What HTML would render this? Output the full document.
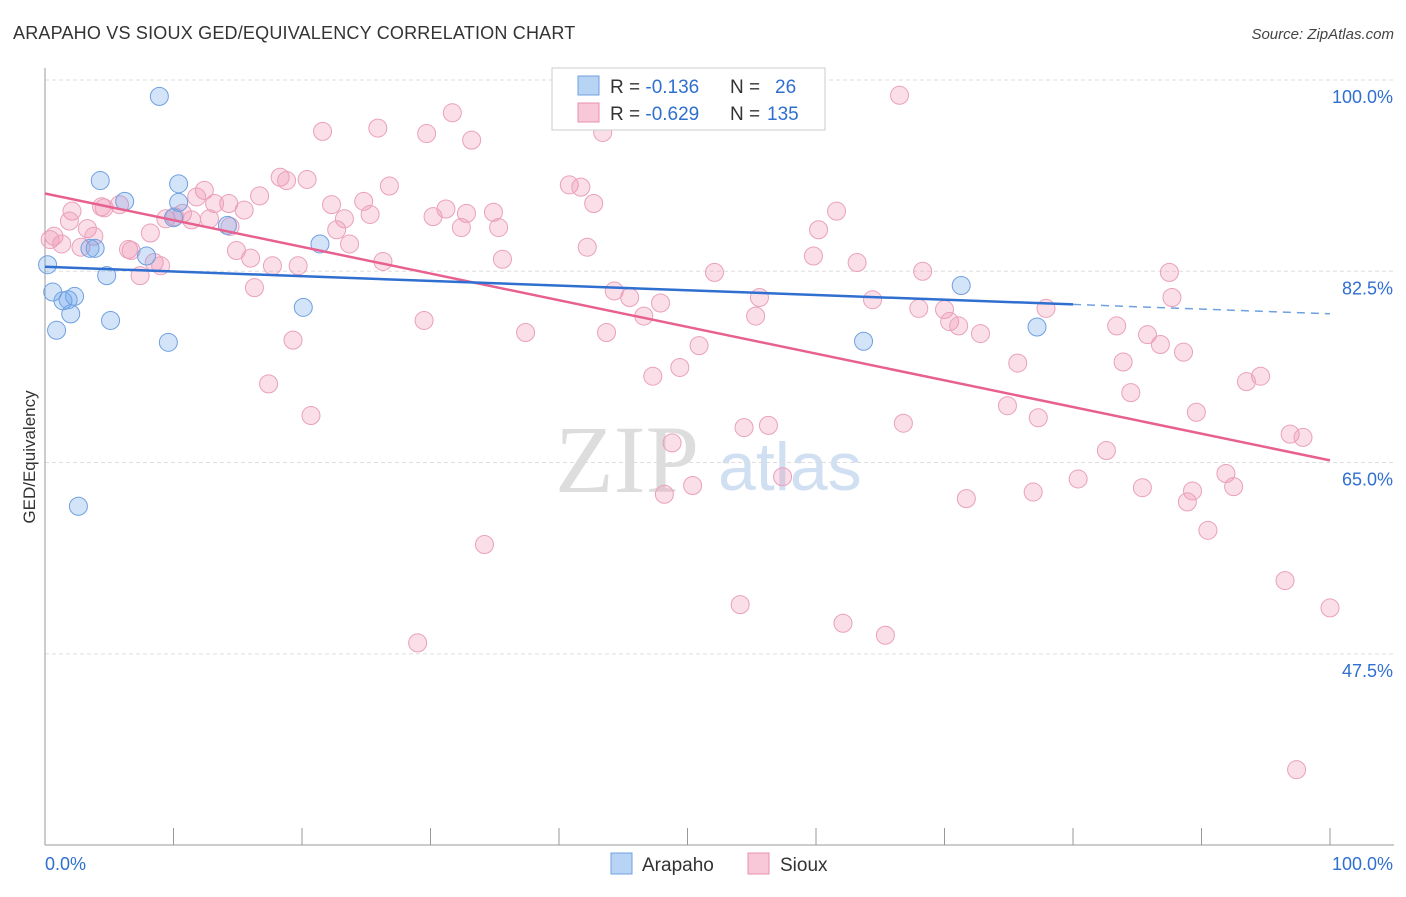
<!DOCTYPE html>
<html><head><meta charset="utf-8"><style>
body{margin:0;background:#fff;font-family:"Liberation Sans",sans-serif;}
</style></head><body>
<svg id="chart" width="1406" height="892" xmlns="http://www.w3.org/2000/svg" font-family="Liberation Sans, sans-serif">
<text x="13" y="39" font-size="18" fill="#333" letter-spacing="0.2">ARAPAHO VS SIOUX GED/EQUIVALENCY CORRELATION CHART</text>
<text x="1394" y="39" font-size="15" fill="#444" font-style="italic" text-anchor="end">Source: ZipAtlas.com</text>
<text x="555" y="492" font-size="96" fill="#ddd" font-family="Liberation Serif, serif">ZIP</text>
<text x="718" y="490" font-size="68" fill="#d0e0f2">atlas</text>
<g id="grid"></g>
<g id="axes"></g>
<g id="marks"></g>
<g id="trends"></g>
<text transform="translate(35,457) rotate(-90)" font-size="17" fill="#333" text-anchor="middle">GED/Equivalency</text>
<g>
<rect x="552" y="68" width="273" height="62" fill="#fff" stroke="#ccc"/>
<rect x="578" y="76" width="21" height="19" fill="#b8d4f4" stroke="#6fa0e0"/>
<rect x="578" y="103" width="21" height="19" fill="#f9c8d8" stroke="#e890b0"/>
<text x="610" y="93" font-size="19" fill="#333">R = <tspan fill="#2f6fd0">-0.136</tspan><tspan x="730">N = </tspan><tspan x="775" fill="#2f6fd0">26</tspan></text>
<text x="610" y="120" font-size="19" fill="#333">R = <tspan fill="#2f6fd0">-0.629</tspan><tspan x="730">N = </tspan><tspan x="767" fill="#2f6fd0">135</tspan></text>
</g>
<g>
<rect x="611" y="853" width="21" height="21" fill="#b8d4f4" stroke="#6fa0e0"/>
<text x="642" y="871" font-size="19" fill="#333">Arapaho</text>
<rect x="748" y="853" width="21" height="21" fill="#f9c8d8" stroke="#e890b0"/>
<text x="780" y="871" font-size="19" fill="#333">Sioux</text>
</g>
</svg>
<script>
const yTicks=[100,82.5,65,47.5];
const xTickLabels=["0.0%","100.0%"];
const arapahoX=[8.9,4.3,6.2,10.4,10.4,10.0,14.2,3.9,3.5,7.9,21.4,0.2,4.8,0.6,2.3,1.4,1.8,2.0,5.1,0.9,20.1,9.6,2.6,71.3,63.7,77.2];
const arapahoY=[98.5,90.8,88.9,90.5,88.8,87.4,86.7,84.6,84.6,83.9,85.0,83.1,82.1,80.6,80.2,79.8,79.9,78.6,78.0,77.1,79.2,76.0,61.0,81.2,76.1,77.4];
const siouxX=[66.5,31.7,21.6,25.9,29.7,33.2,43.4,18.3,18.8,20.4,26.8,40.8,41.7,12.4,16.7,24.8,42.7,11.8,14.3,22.3,31.2,34.9,32.8,30.2,61.6,25.3,15.5,13.2,5.8,4.4,4.6,2.1,1.9,9.4,10.1,11.4,10.7,12.8,23.3,14.4,22.7,32.4,35.3,60.2,8.2,3.3,3.8,0.7,0.4,1.3,2.8,6.5,6.7,23.7,14.9,42.2,16.0,8.5,26.3,17.7,19.7,35.6,59.8,63.2,9.0,7.4,52.1,68.3,87.5,16.3,44.3,45.5,47.9,55.6,64.4,87.7,68.0,70.0,77.9,46.6,55.3,70.4,71.1,83.4,29.5,37.4,43.7,72.8,85.8,86.8,88.6,50.9,19.3,75.7,83.9,49.4,47.3,94.6,93.5,17.4,84.5,74.9,20.7,89.6,77.3,66.8,54.4,56.3,96.9,97.9,48.8,82.6,57.4,80.4,91.9,92.5,50.4,48.2,76.9,85.4,89.3,71.7,88.9,90.5,34.2,96.5,100,54.1,62.1,65.4,29.0,97.4];
const siouxY=[98.6,97.0,95.3,95.6,95.1,94.5,95.2,91.1,90.8,90.9,90.3,90.4,90.2,89.9,89.4,88.9,88.7,89.3,88.7,88.6,88.2,87.9,87.8,87.5,88.0,87.7,88.1,88.7,88.6,88.4,88.3,88.0,87.1,87.3,87.5,87.2,87.8,87.3,87.3,86.6,86.3,86.5,86.5,86.3,86.0,86.4,85.7,85.7,85.4,85.0,84.7,84.5,84.4,85.0,84.4,84.7,83.7,83.3,83.4,83.0,83.0,83.6,83.9,83.3,83.0,82.1,82.4,82.5,82.4,81.0,80.7,80.1,79.6,80.1,79.9,80.1,79.1,79.0,79.1,78.4,78.4,77.9,77.5,77.5,78.0,76.9,76.9,76.8,76.7,75.8,75.1,75.7,76.2,74.1,74.2,73.7,72.9,72.9,72.4,72.2,71.4,70.2,69.3,69.6,69.1,68.6,68.2,68.4,67.6,67.3,66.8,66.1,63.7,63.5,64.0,62.8,62.9,62.1,62.3,62.7,62.4,61.7,61.4,58.8,57.5,54.2,51.7,52.0,50.3,49.2,48.5,36.9];
const NS="http://www.w3.org/2000/svg";
const X0=45,X1=1330,YTOP=80,PXPER=10.93;
function sx(v){return X0+(X1-X0)*v/100;}
function sy(v){return YTOP+(100-v)*PXPER;}
function mk(tag,attrs,parent){const e=document.createElementNS(NS,tag);for(const k in attrs)e.setAttribute(k,attrs[k]);parent.appendChild(e);return e;}
const grid=document.getElementById('grid'),axes=document.getElementById('axes'),marks=document.getElementById('marks'),trends=document.getElementById('trends');
yTicks.forEach(t=>{
 const l=mk('line',{x1:45,x2:1394,y1:sy(t),y2:sy(t),stroke:'#ddd','stroke-dasharray':'4,3'},grid);
 
 
 const tx=mk('text',{x:1393,y:sy(t)+23,'font-size':18,fill:'#2f6fd0','text-anchor':'end'},grid);
 tx.textContent=t.toFixed(1)+'%';
 
 
});
const ya=mk('line',{x1:45,x2:45,y1:68,y2:845,stroke:'#999'},axes);


const xa=mk('line',{x1:45,x2:1394,y1:845,y2:845,stroke:'#999'},axes);


for(let i=1;i<=10;i++){
 const t=mk('line',{x1:sx(i*10),x2:sx(i*10),y1:828,y2:845,stroke:'#999'},axes);
 
 
}
const xl0=mk('text',{x:45,y:870,'font-size':18,fill:'#2f6fd0'},axes);xl0.textContent=xTickLabels[0];


const xl1=mk('text',{x:1393,y:870,'font-size':18,fill:'#2f6fd0','text-anchor':'end'},axes);xl1.textContent=xTickLabels[1];


function dots(xs,ys,fill,stroke,name){
 xs.forEach((x,i)=>{
  const c=mk('circle',{cx:sx(x),cy:sy(ys[i]),r:9,fill:fill,stroke:stroke,'stroke-width':1},marks);
  
  
 });
}
dots(siouxX,siouxY,'rgba(240,150,180,0.3)','#eaa0bc','sioux-point');
dots(arapahoX,arapahoY,'rgba(110,165,235,0.3)','#6fa0e0','arapaho-point');
function fit(xs,ys){const n=xs.length;let mx=0,my=0;xs.forEach((x,i)=>{mx+=x;my+=ys[i];});mx/=n;my/=n;let sxy=0,sxx=0;xs.forEach((x,i)=>{sxy+=(x-mx)*(ys[i]-my);sxx+=(x-mx)*(x-mx);});const b=sxy/sxx;return [my-b*mx,b];}
const fs=fit(siouxX,siouxY);
const ls=mk('line',{x1:sx(0),y1:sy(fs[0]),x2:sx(100),y2:sy(fs[0]+fs[1]*100),stroke:'#e8608f','stroke-width':2.5},trends);


const fa=fit(arapahoX,arapahoY);
const solidEnd=80;
const la=mk('line',{x1:sx(0),y1:sy(fa[0]),x2:sx(solidEnd),y2:sy(fa[0]+fa[1]*solidEnd),stroke:'#2f6fd0','stroke-width':2.5},trends);


const ld=mk('line',{x1:sx(solidEnd),y1:sy(fa[0]+fa[1]*solidEnd),x2:sx(100),y2:sy(fa[0]+fa[1]*100),stroke:'#6fa0e0','stroke-width':1.5,'stroke-dasharray':'8,6'},trends);


</script>
</body></html>
